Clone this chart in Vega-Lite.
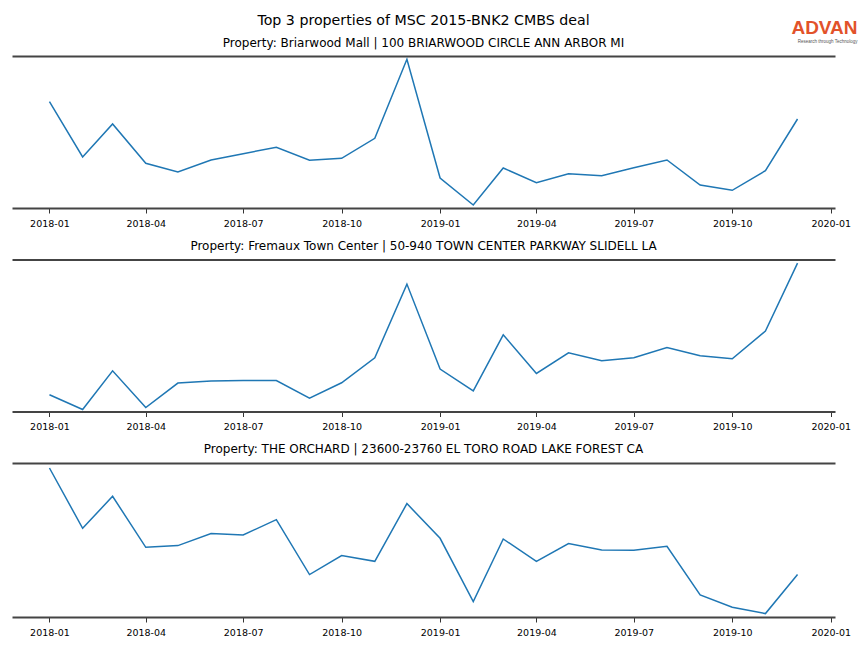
{
  "$schema": "https://vega.github.io/schema/vega-lite/v6.json",
  "background": "white",
  "padding": {"left": 12, "top": 13, "right": 0, "bottom": 0},
  "spacing": 11.5,
  "title": {
    "text": "ADVAN",
    "subtitle": "Research through Technology",
    "anchor": "end",
    "orient": "top",
    "frame": "bounds",
    "font": "Liberation Sans",
    "fontSize": 19,
    "fontWeight": "bold",
    "color": "#e2522a",
    "subtitleFont": "Liberation Sans",
    "subtitleFontSize": 4.5,
    "subtitleColor": "#555555",
    "subtitlePadding": 1,
    "offset": -30,
    "dx": 7
  },
  "datasets": {
    "p1": [
      {"date": "2018-01-01", "v": 106.3}, {"date": "2018-02-01", "v": 51}, {"date": "2018-03-01", "v": 84},
      {"date": "2018-04-01", "v": 44.7}, {"date": "2018-05-01", "v": 36}, {"date": "2018-06-01", "v": 48},
      {"date": "2018-07-01", "v": 54.3}, {"date": "2018-08-01", "v": 60.7}, {"date": "2018-09-01", "v": 47.7},
      {"date": "2018-10-01", "v": 49.7}, {"date": "2018-11-01", "v": 69.7}, {"date": "2018-12-01", "v": 148.7},
      {"date": "2019-01-01", "v": 30}, {"date": "2019-02-01", "v": 3}, {"date": "2019-03-01", "v": 40},
      {"date": "2019-04-01", "v": 25.3}, {"date": "2019-05-01", "v": 34.3}, {"date": "2019-06-01", "v": 32.3},
      {"date": "2019-07-01", "v": 40.3}, {"date": "2019-08-01", "v": 48}, {"date": "2019-09-01", "v": 23},
      {"date": "2019-10-01", "v": 17.7}, {"date": "2019-11-01", "v": 37.3}, {"date": "2019-12-01", "v": 89}
    ],
    "p2": [
      {"date": "2018-01-01", "v": 16.7}, {"date": "2018-02-01", "v": 2}, {"date": "2018-03-01", "v": 40.7},
      {"date": "2018-04-01", "v": 4}, {"date": "2018-05-01", "v": 28.4}, {"date": "2018-06-01", "v": 30.4},
      {"date": "2018-07-01", "v": 31}, {"date": "2018-08-01", "v": 31}, {"date": "2018-09-01", "v": 13.4},
      {"date": "2018-10-01", "v": 28.7}, {"date": "2018-11-01", "v": 53.7}, {"date": "2018-12-01", "v": 127.4},
      {"date": "2019-01-01", "v": 42.4}, {"date": "2019-02-01", "v": 20.7}, {"date": "2019-03-01", "v": 76.7},
      {"date": "2019-04-01", "v": 38}, {"date": "2019-05-01", "v": 58.7}, {"date": "2019-06-01", "v": 50.7},
      {"date": "2019-07-01", "v": 53.7}, {"date": "2019-08-01", "v": 64}, {"date": "2019-09-01", "v": 55.7},
      {"date": "2019-10-01", "v": 52.7}, {"date": "2019-11-01", "v": 80.4}, {"date": "2019-12-01", "v": 148.4}
    ],
    "p3": [
      {"date": "2018-01-01", "v": 149}, {"date": "2018-02-01", "v": 88.7}, {"date": "2018-03-01", "v": 120.7},
      {"date": "2018-04-01", "v": 69.7}, {"date": "2018-05-01", "v": 71.4}, {"date": "2018-06-01", "v": 83.4},
      {"date": "2018-07-01", "v": 82}, {"date": "2018-08-01", "v": 97.4}, {"date": "2018-09-01", "v": 42.4},
      {"date": "2018-10-01", "v": 61.4}, {"date": "2018-11-01", "v": 55.7}, {"date": "2018-12-01", "v": 113.4},
      {"date": "2019-01-01", "v": 78.7}, {"date": "2019-02-01", "v": 15.4}, {"date": "2019-03-01", "v": 78},
      {"date": "2019-04-01", "v": 55.7}, {"date": "2019-05-01", "v": 73.4}, {"date": "2019-06-01", "v": 67},
      {"date": "2019-07-01", "v": 66.7}, {"date": "2019-08-01", "v": 70.7}, {"date": "2019-09-01", "v": 22},
      {"date": "2019-10-01", "v": 9.7}, {"date": "2019-11-01", "v": 3.4}, {"date": "2019-12-01", "v": 42.4}
    ]
  },
  "config": {
    "view": {"stroke": null},
    "font": "DejaVu Sans",
    "title": {"font": "DejaVu Sans", "fontWeight": "normal", "color": "black", "subtitleColor": "black", "subtitleFont": "DejaVu Sans"},
    "axis": {
      "grid": false,
      "title": null,
      "labelFont": "DejaVu Sans",
      "labelFontSize": 9.5,
      "labelColor": "black",
      "labelFlush": false,
      "labelOverlap": false,
      "labelPadding": 5,
      "tickColor": "black",
      "tickSize": 5,
      "tickWidth": 0.8,
      "domainColor": "#444444",
      "domainWidth": 2
    }
  },
  "vconcat": [
    {
      "width": 823, "height": 152,
      "title": {"text": "Top 3 properties of MSC 2015-BNK2 CMBS deal", "subtitle": "Property: Briarwood Mall | 100 BRIARWOOD CIRCLE ANN ARBOR MI", "fontSize": 14.2, "subtitleFontSize": 12, "subtitlePadding": 10, "offset": 7, "anchor": "middle"},
      "data": {"name": "p1"},
      "layer": [
        {"mark": {"type": "line", "color": "#1f77b4", "strokeWidth": 1.5},
         "encoding": {
           "x": {"field": "date", "type": "temporal", "scale": {"type": "utc", "nice": false, "domain": [{"year": 2017, "month": 11, "date": 27, "utc": true}, {"year": 2020, "month": 1, "date": 5, "utc": true}]},
                 "axis": {"orient": "bottom", "labelExpr": "utcFormat(datum.value, '%Y-%m')", "values": [{"year": 2018, "month": 1, "date": 1, "utc": true}, {"year": 2018, "month": 4, "date": 1, "utc": true}, {"year": 2018, "month": 7, "date": 1, "utc": true}, {"year": 2018, "month": 10, "date": 1, "utc": true}, {"year": 2019, "month": 1, "date": 1, "utc": true}, {"year": 2019, "month": 4, "date": 1, "utc": true}, {"year": 2019, "month": 7, "date": 1, "utc": true}, {"year": 2019, "month": 10, "date": 1, "utc": true}, {"year": 2020, "month": 1, "date": 1, "utc": true}]}},
           "y": {"field": "v", "type": "quantitative", "scale": {"domain": [0, 152], "nice": false, "zero": false}, "axis": null}
         }},
        {"mark": {"type": "line", "opacity": 0},
         "encoding": {
           "x": {"field": "date", "type": "temporal", "axis": {"orient": "top", "labels": false, "ticks": false}},
           "y": {"field": "v", "type": "quantitative", "axis": null}
         }}
      ],
      "resolve": {"axis": {"x": "independent"}}
    },
    {
      "width": 823, "height": 152,
      "title": {"text": "Property: Fremaux Town Center | 50-940 TOWN CENTER PARKWAY SLIDELL LA", "fontSize": 12, "offset": 7, "anchor": "middle"},
      "data": {"name": "p2"},
      "layer": [
        {"mark": {"type": "line", "color": "#1f77b4", "strokeWidth": 1.5},
         "encoding": {
           "x": {"field": "date", "type": "temporal", "scale": {"type": "utc", "nice": false, "domain": [{"year": 2017, "month": 11, "date": 27, "utc": true}, {"year": 2020, "month": 1, "date": 5, "utc": true}]},
                 "axis": {"orient": "bottom", "labelExpr": "utcFormat(datum.value, '%Y-%m')", "values": [{"year": 2018, "month": 1, "date": 1, "utc": true}, {"year": 2018, "month": 4, "date": 1, "utc": true}, {"year": 2018, "month": 7, "date": 1, "utc": true}, {"year": 2018, "month": 10, "date": 1, "utc": true}, {"year": 2019, "month": 1, "date": 1, "utc": true}, {"year": 2019, "month": 4, "date": 1, "utc": true}, {"year": 2019, "month": 7, "date": 1, "utc": true}, {"year": 2019, "month": 10, "date": 1, "utc": true}, {"year": 2020, "month": 1, "date": 1, "utc": true}]}},
           "y": {"field": "v", "type": "quantitative", "scale": {"domain": [0, 152], "nice": false, "zero": false}, "axis": null}
         }},
        {"mark": {"type": "line", "opacity": 0},
         "encoding": {
           "x": {"field": "date", "type": "temporal", "axis": {"orient": "top", "labels": false, "ticks": false}},
           "y": {"field": "v", "type": "quantitative", "axis": null}
         }}
      ],
      "resolve": {"axis": {"x": "independent"}}
    },
    {
      "width": 823, "height": 154,
      "title": {"text": "Property: THE ORCHARD | 23600-23760 EL TORO ROAD LAKE FOREST CA", "fontSize": 12, "offset": 7, "anchor": "middle"},
      "data": {"name": "p3"},
      "layer": [
        {"mark": {"type": "line", "color": "#1f77b4", "strokeWidth": 1.5},
         "encoding": {
           "x": {"field": "date", "type": "temporal", "scale": {"type": "utc", "nice": false, "domain": [{"year": 2017, "month": 11, "date": 27, "utc": true}, {"year": 2020, "month": 1, "date": 5, "utc": true}]},
                 "axis": {"orient": "bottom", "labelExpr": "utcFormat(datum.value, '%Y-%m')", "values": [{"year": 2018, "month": 1, "date": 1, "utc": true}, {"year": 2018, "month": 4, "date": 1, "utc": true}, {"year": 2018, "month": 7, "date": 1, "utc": true}, {"year": 2018, "month": 10, "date": 1, "utc": true}, {"year": 2019, "month": 1, "date": 1, "utc": true}, {"year": 2019, "month": 4, "date": 1, "utc": true}, {"year": 2019, "month": 7, "date": 1, "utc": true}, {"year": 2019, "month": 10, "date": 1, "utc": true}, {"year": 2020, "month": 1, "date": 1, "utc": true}]}},
           "y": {"field": "v", "type": "quantitative", "scale": {"domain": [0, 154], "nice": false, "zero": false}, "axis": null}
         }},
        {"mark": {"type": "line", "opacity": 0},
         "encoding": {
           "x": {"field": "date", "type": "temporal", "axis": {"orient": "top", "labels": false, "ticks": false}},
           "y": {"field": "v", "type": "quantitative", "axis": null}
         }}
      ],
      "resolve": {"axis": {"x": "independent"}}
    }
  ]
}
